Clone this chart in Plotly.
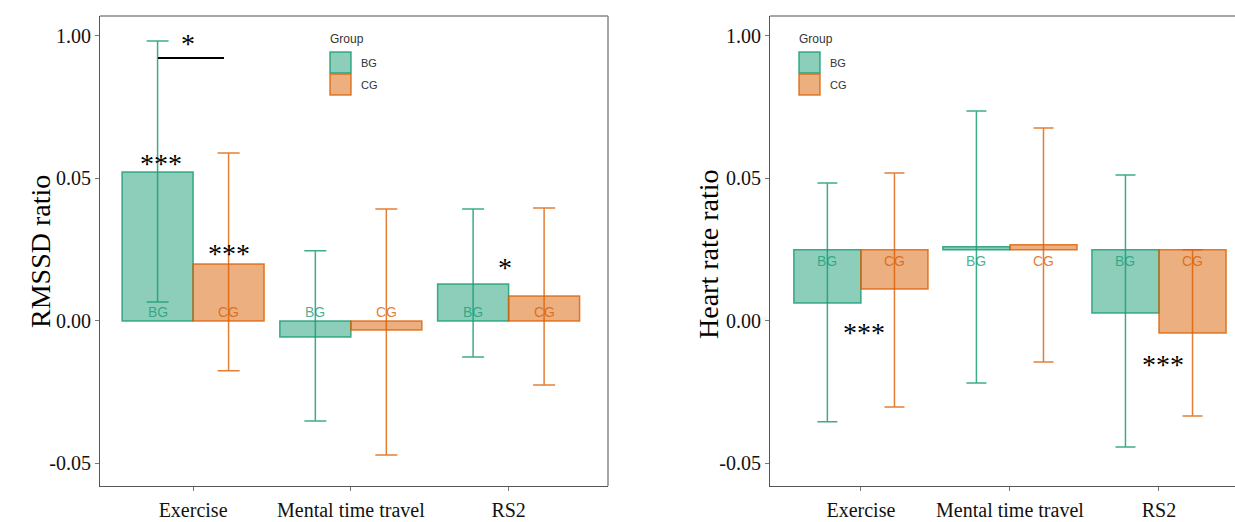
import plotly.graph_objects as go

# ---------------- data ----------------
categories = ["Exercise", "Mental time travel", "RS2"]
groups = ["BG", "CG"]

# RMSSD ratio (left panel)
rmssd_bg = [0.0523, -0.0056, 0.0130]
rmssd_bg_hi = [0.0982, 0.0246, 0.0393]
rmssd_bg_lo = [0.0067, -0.0351, -0.0126]
rmssd_cg = [0.0200, -0.0032, 0.0088]
rmssd_cg_hi = [0.0589, 0.0393, 0.0396]
rmssd_cg_lo = [-0.0175, -0.0470, -0.0225]

# Heart rate ratio (right panel), bars drawn from a 0.025 baseline
hr_base = 0.025
hr_bg = [0.0063, 0.0260, 0.0028]
hr_bg_hi = [0.0484, 0.0737, 0.0512]
hr_bg_lo = [-0.0354, -0.0218, -0.0442]
hr_cg = [0.0112, 0.0267, -0.0042]
hr_cg_hi = [0.0519, 0.0677, 0.0250]
hr_cg_lo = [-0.0302, -0.0144, -0.0333]

ytick_vals = [-0.05, 0.0, 0.05, 0.10]
ytick_text = ["-0.05", "0.00", "0.05", "1.00"]

# significance marks: (x in category units, y, text)
sig_left = [(-0.03, 0.0972, "*"), (-0.203, 0.0551, "***"), (0.228, 0.0235, "***"), (1.975, 0.0186, "*")]
sig_right = [(0.02, -0.0042, "***"), (2.03, -0.0151, "***")]
sig_line_left = (-0.222, 0.196, 0.0923)

# ---------------- style ----------------
teal_fill = "rgba(27,158,119,0.5)"
orange_fill = "rgba(217,95,2,0.5)"
teal_line = "rgba(27,158,119,0.85)"
orange_line = "rgba(217,95,2,0.8)"
teal_text = "rgba(27,158,119,0.8)"
orange_text = "rgba(217,95,2,0.8)"
serif = "Liberation Serif, Times New Roman, serif"
sans = "Liberation Sans, Arial, sans-serif"

W, H = 1235, 522


def px(x):
    return x / W


def py(y):
    return 1 - y / H


fig = go.Figure()


def add_bars(xa, ya, means, hi, lo, fill, line, name, base=None):
    if base is None:
        yvals = means
        b = None
    else:
        yvals = [m - base for m in means]
        b = base
    fig.add_trace(go.Bar(
        x=categories, y=yvals, base=b, name=name, xaxis=xa, yaxis=ya,
        marker=dict(color=fill, line=dict(color=line, width=1.5)),
        error_y=dict(type="data", symmetric=False,
                     array=[h - m for h, m in zip(hi, means)],
                     arrayminus=[m - l for m, l in zip(means, lo)],
                     color=line, thickness=1.5, width=11 if xa == "x" else 10),
        offsetgroup=name, showlegend=False,
    ))


add_bars("x", "y", rmssd_bg, rmssd_bg_hi, rmssd_bg_lo, teal_fill, teal_line, "BG")
add_bars("x", "y", rmssd_cg, rmssd_cg_hi, rmssd_cg_lo, orange_fill, orange_line, "CG")
add_bars("x2", "y2", hr_bg, hr_bg_hi, hr_bg_lo, teal_fill, teal_line, "BG", base=hr_base)
add_bars("x2", "y2", hr_cg, hr_cg_hi, hr_cg_lo, orange_fill, orange_line, "CG", base=hr_base)

annotations = []
shapes = []

# bar labels
for xr, yr_, ylab in [("x", "y", 0.0032), ("x2", "y2", 0.021)]:
    for i, _ in enumerate(categories):
        for g, off, col in [("BG", -0.225, teal_text), ("CG", 0.225, orange_text)]:
            annotations.append(dict(x=i + off, y=ylab, xref=xr, yref=yr_, text=g, showarrow=False,
                                    font=dict(family=sans, size=14, color=col),
                                    xanchor="center", yanchor="middle"))

# significance stars
for xo, yv, t in sig_left:
    annotations.append(dict(x=xo, y=yv, xref="x", yref="y", text=t, showarrow=False,
                            font=dict(family=serif, size=28, color="black"),
                            xanchor="center", yanchor="middle"))
for xo, yv, t in sig_right:
    annotations.append(dict(x=xo, y=yv, xref="x2", yref="y2", text=t, showarrow=False,
                            font=dict(family=serif, size=28, color="black"),
                            xanchor="center", yanchor="middle"))
shapes.append(dict(type="line", xref="x", yref="y", x0=sig_line_left[0], x1=sig_line_left[1],
                   y0=sig_line_left[2], y1=sig_line_left[2], line=dict(color="black", width=2)))

# axis titles
annotations.append(dict(x=px(40), y=py(252), xref="paper", yref="paper", text="RMSSD ratio",
                        textangle=-90, showarrow=False, xanchor="center", yanchor="middle",
                        font=dict(family=serif, size=28, color="black")))
annotations.append(dict(x=px(708), y=py(255), xref="paper", yref="paper", text="Heart rate ratio",
                        textangle=-90, showarrow=False, xanchor="center", yanchor="middle",
                        font=dict(family=serif, size=28, color="black")))

# legends (drawn manually)
for lx in [328, 797]:
    annotations.append(dict(x=px(lx), y=py(39), xref="paper", yref="paper", text="Group",
                            showarrow=False, xanchor="left", yanchor="middle",
                            font=dict(family=sans, size=12, color="#333")))
    for j, (g, fc, lc) in enumerate([("BG", teal_fill, teal_line), ("CG", orange_fill, orange_line)]):
        y0 = 52 + j * 22
        shapes.append(dict(type="rect", xref="paper", yref="paper",
                           x0=px(lx + 2), x1=px(lx + 23), y0=py(y0), y1=py(y0 + 21),
                           fillcolor=fc, line=dict(color=lc, width=1.5)))
        annotations.append(dict(x=px(lx + 31), y=py(y0 + 10.5), xref="paper", yref="paper", text=g,
                                showarrow=False, xanchor="left", yanchor="middle",
                                font=dict(family=sans, size=11, color="#333")))

# light top/right borders
shapes.append(dict(type="line", xref="x domain", yref="y domain", x0=0, x1=1, y0=1, y1=1,
                   line=dict(color="#888", width=1.5)))
shapes.append(dict(type="line", xref="x domain", yref="y domain", x0=1, x1=1, y0=0, y1=1,
                   line=dict(color="#888", width=1.5)))
shapes.append(dict(type="line", xref="x2 domain", yref="y2 domain", x0=0, x1=1, y0=1, y1=1,
                   line=dict(color="#888", width=1.5)))

yrange = [-0.0579, 0.1070]
ydom = [py(486), py(16)]
axis_common = dict(showgrid=False, zeroline=False, showline=True, linecolor="#555", linewidth=1.2,
                   ticks="outside", ticklen=4, tickcolor="#777", tickwidth=1, automargin=False)

fig.update_layout(
    width=W, height=H, margin=dict(l=0, r=0, t=0, b=0),
    paper_bgcolor="white", plot_bgcolor="white",
    barmode="group", bargap=0.1, bargroupgap=0,
    xaxis=dict(domain=[px(100), px(608)], range=[-0.59, 2.63],
               tickfont=dict(family=serif, size=20, color="#111"), ticklabelstandoff=2, **axis_common),
    yaxis=dict(domain=ydom, range=yrange, tickvals=ytick_vals, ticktext=ytick_text,
               tickfont=dict(family=serif, size=20, color="#111"), **axis_common),
    xaxis2=dict(domain=[px(770), 1.0], range=[-0.61, 2.51], anchor="y2",
                tickfont=dict(family=serif, size=20, color="#111"), ticklabelstandoff=2, **axis_common),
    yaxis2=dict(domain=ydom, range=yrange, anchor="x2", tickvals=ytick_vals, ticktext=ytick_text,
                tickfont=dict(family=serif, size=20, color="#111"), **axis_common),
    annotations=annotations, shapes=shapes,
)

fig.write_html("out.html", config={"displayModeBar": False},
               post_script="document.body.style.margin='0px';document.body.style.overflow='hidden';")
